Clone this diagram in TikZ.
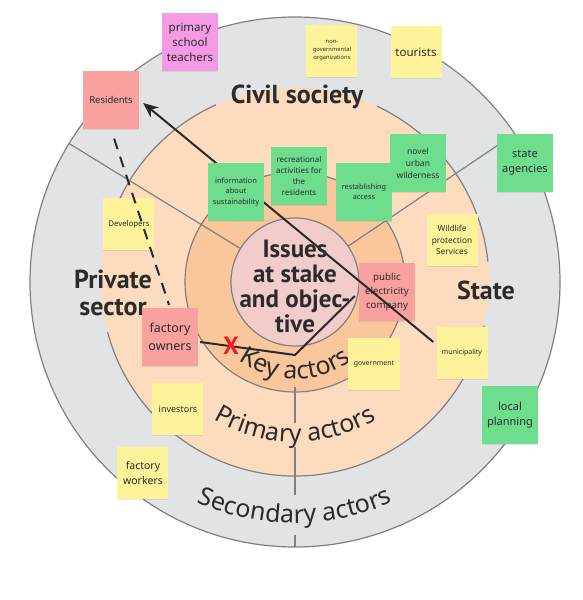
\documentclass[tikz,border=0pt]{standalone}
\usepackage{fontspec}
\setmainfont{Noto Sans}
\newfontfamily\labelfont{PT Sans}
\newfontfamily\ringfont{Noto Sans}
\usetikzlibrary{arrows.meta,decorations.text,shadows}

\definecolor{ringgrey}{HTML}{E2E3E5}
\definecolor{ringpeach}{HTML}{FDDBBF}
\definecolor{ringorange}{HTML}{F9C79B}
\definecolor{corepink}{HTML}{F2CCCB}
\definecolor{rimgrey}{HTML}{808080}
\definecolor{inkgrey}{HTML}{2B2B2B}
\definecolor{noteyellow}{HTML}{FEF39B}
\definecolor{notegreen}{HTML}{6EDE8E}
\definecolor{notered}{HTML}{F9A19F}
\definecolor{notepink}{HTML}{F59BE6}
\definecolor{crossred}{HTML}{F01E1E}

\newcommand{\notefont}[2]{\fontsize{#1}{#2}\selectfont}

\begin{document}
\begin{tikzpicture}[x=1pt,y=1pt,  % one pt per pixel, origin in the middle of the rings
		note/.style={align=center,inner sep=0pt,text=inkgrey,
			drop shadow={shadow xshift=0pt,shadow yshift=-1.2pt,opacity=.18}},
		bignote/.style={note,minimum width=56pt,minimum height=58pt},
		smallnote/.style={note,minimum width=51pt,minimum height=52pt},
		yellownote/.style={smallnote,fill=noteyellow},
		greennote/.style={bignote,fill=notegreen},
		rednote/.style={bignote,fill=notered},
		pinknote/.style={bignote,fill=notepink},
		rim/.style={draw=rimgrey,line width=1.2pt},
		link/.style={draw=inkgrey,line width=2pt},
		sector/.style={font=\labelfont\bfseries\notefont{26}{27},text=inkgrey,align=center},
		ringlabel/.style={decorate,decoration={text along path,text align=center,
			text color=inkgrey,text={|\ringfont\notefont{25}{25}|#1}}}]

	\useasboundingbox (-295,-318) rectangle (288,282);

	\fill[ringgrey] (0,0) circle[radius=265pt];
	\fill[ringpeach] (0,0) circle[radius=194pt];
	\fill[ringorange] (0,0) circle[radius=110pt];
	\draw[rim] (0,0) circle[radius=265pt];
	\draw[rim] (0,0) circle[radius=110pt];
	\draw[rim] (6:194) arc[start angle=6,end angle=65,radius=194pt];
	\draw[rim] (114:194) arc[start angle=114,end angle=160,radius=194pt];
	\draw[rim] (195:194) arc[start angle=195,end angle=347,radius=194pt];
	\draw[rim] (148.5:64) -- (148.5:265);
	\draw[rim] (34:64) -- (34:265);
	\draw[rim] (0,-105) -- (0,-141) (0,-165) -- (0,-213) (0,-253) -- (0,-265);
	\draw[rim,fill=corepink] (0,0) circle[radius=64pt];

	\node[sector,font=\labelfont\bfseries\notefont{25}{25}] (issues) at (0,-4) {Issues\\at stake\\and objec-\\tive};
	\node[sector] (civil) at (2,185) {Civil society};
	\node[sector] (private) at (-182,-11) {Private\\sector};
	\node[sector] (state) at (191,-8) {State};

	\path[ringlabel={Key actors}] (190:97) arc[start angle=190,end angle=350,radius=97pt];
	\path[ringlabel={Primary actors}] (190:160) arc[start angle=190,end angle=350,radius=160pt];
	\path[ringlabel={Secondary actors}] (200:241) arc[start angle=200,end angle=340,radius=241pt];

	\node[pinknote,font=\notefont{11.5}{15}] (teachers) at (-105,240) {primary\\school\\teachers};
	\node[rednote,font=\notefont{9.5}{13}] (residents) at (-184,182) {Residents};
	\node[yellownote,font=\notefont{5.8}{8}] (ngo) at (37,231) {non-\\governmental\\organizations};
	\node[yellownote,font=\notefont{11.5}{15}] (tourists) at (121,230) {tourists};
	\node[greennote,font=\notefont{11}{15}] (agencies) at (230,119) {state\\agencies};
	\node[greennote,font=\notefont{8.5}{12}] (wilderness) at (123,119) {novel\\urban\\wilderness};
	\node[greennote,font=\notefont{7.3}{10.5}] (access) at (69,90) {restablishing\\access};
	\node[greennote,font=\notefont{8}{11.3}] (leisure) at (4,106) {recreational\\activities for\\the\\residents};
	\node[yellownote,font=\notefont{7.8}{10}] (developers) at (-166,58) {Developers};
	\node[yellownote,font=\notefont{8.3}{11.3}] (wildlife) at (157,42) {Wildlife\\protection\\Services};
	\node[rednote,font=\notefont{9.7}{13.7}] (electricity) at (92,-10) {public\\electricity\\company};
	\node[rednote,font=\notefont{12.5}{18}] (owners) at (-125,-55) {factory\\owners};
	\node[yellownote,font=\notefont{7}{9}] (government) at (79,-82) {government};
	\node[yellownote,font=\notefont{7}{9}] (municipality) at (167,-71) {municipality};
	\node[greennote,font=\notefont{11}{15}] (planning) at (215,-133) {local\\planning};
	\node[yellownote,font=\notefont{9}{12}] (investors) at (-117,-127) {investors};
	\node[yellownote,font=\notefont{10.5}{14.3}] (workers) at (-152,-191) {factory\\workers};

	\coordinate (vtx) at (0,-73);
	\draw[link,dash pattern=on 11pt off 8pt,shorten <=10pt,shorten >=3pt] (residents.south) -- (owners.north);
	\draw[link] ([shift={(2pt,-5pt)}]owners.east) -- (vtx) -- ([shift={(-4pt,-4pt)}]electricity.west);
	\draw[link,-{Stealth[length=15pt,width=13pt]}] ([shift={(-3pt,11pt)}]municipality.west)
		-- ([shift={(4pt,-3pt)}]residents.east);
	\node[text=crossred,font=\labelfont\bfseries\notefont{25}{25}] (cut) at (-64,-64) {X};

	\node[greennote,font=\notefont{7.5}{10.3}] (info) at (-59,90) {information\\about\\sustainability};
\end{tikzpicture}
\end{document}
